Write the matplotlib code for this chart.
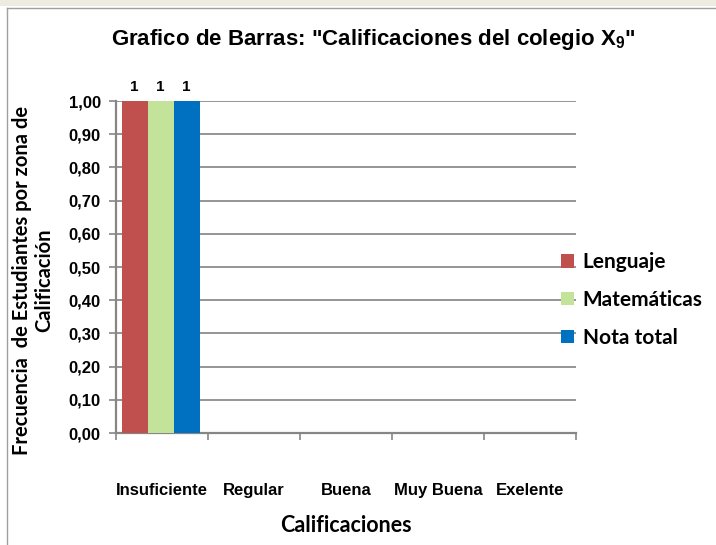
import matplotlib
matplotlib.use('Agg')
import matplotlib.pyplot as plt
from matplotlib.patches import Rectangle
from matplotlib.lines import Line2D
import numpy as np

# datos del grafico
categorias = ['Insuficiente', 'Regular', 'Buena', 'Muy Buena', 'Exelente']
lenguaje = [1, 0, 0, 0, 0]
matematicas = [1, 0, 0, 0, 0]
nota_total = [1, 0, 0, 0, 0]
series = ['Lenguaje', 'Matemáticas', 'Nota total']
colores = ['#C0504D', '#C3E29A', '#0070C0']
yticks = [0.0, 0.1, 0.2, 0.3, 0.4, 0.5, 0.6, 0.7, 0.8, 0.9, 1.0]

plt.rcParams['mathtext.fontset'] = 'custom'
plt.rcParams['mathtext.bf'] = 'Liberation Sans:bold'
plt.rcParams['mathtext.rm'] = 'Liberation Sans:bold'

fig = plt.figure(figsize=(7.16, 5.45), dpi=100)
W, H = 716, 545
ax = fig.add_axes([116/W, 1-433/H, (576-116)/W, (433-101)/H])

# marco de la hoja
fig.add_artist(Rectangle((0, 1-6/H), 1, 6/H, transform=fig.transFigure, color='#EEECE1', lw=0))
fig.add_artist(Line2D([7/W, 1], [1-8/H, 1-8/H], transform=fig.transFigure, color='#A0A0A0', lw=1))
fig.add_artist(Line2D([7/W, 7/W], [0, 1-8/H], transform=fig.transFigure, color='#A0A0A0', lw=1))

x = np.arange(len(categorias))
w = 0.283
datos = [lenguaje, matematicas, nota_total]
for i, (vals, c, nom) in enumerate(zip(datos, colores, series)):
    pos = x + (i-1)*w - 0.015
    ax.bar(pos, vals, w, color=c, label=nom, zorder=3)
    for p, v in zip(pos, vals):
        if v > 0:
            ax.text(p, v + 0.02, f'{v:g}', ha='center', va='bottom',
                    fontsize=11, fontweight='bold', family='Liberation Sans')

ax.set_xlim(-0.5, 4.5)
ax.set_ylim(0, 1)
ax.set_yticks(yticks)
ax.set_yticklabels([f'{t:.2f}'.replace('.', ',') for t in yticks],
                   fontsize=12, fontweight='bold', family='Liberation Sans')
ax.set_xticks(x)
ax.set_xticklabels(categorias, fontsize=12, fontweight='bold', family='Liberation Sans')
ax.set_xticks(np.arange(-0.5, 5, 1), minor=True)
ax.tick_params(axis='x', which='major', length=0, pad=36)
ax.tick_params(axis='x', which='minor', length=5, width=1.2, color='#868686', direction='out')
ax.tick_params(axis='y', length=5, width=1.2, color='#868686', direction='out', pad=6)

ax.grid(axis='y', color='#8C8C8C', lw=1.3, zorder=0)
for s in ['top', 'right']:
    ax.spines[s].set_visible(False)
for s in ['left', 'bottom']:
    ax.spines[s].set_color('#868686')
    ax.spines[s].set_linewidth(1.6)

fig.text(373/W, 1-40/H, 'Grafico de Barras: "Calificaciones del colegio $\\mathbf{X_9}$"',
         ha='center', va='center', fontsize=16, fontweight='bold', family='Liberation Sans')
fig.text(346/W, 1-525/H, 'Calificaciones', ha='center', va='center',
         fontsize=15.5, fontweight='bold', family='Lato')
fig.text(33/W, 1-280/H, 'Frecuencia  de Estudiantes por zona de\nCalificación',
         ha='center', va='center', rotation=90, fontsize=14.5, fontweight='bold',
         family='Lato', linespacing=1.15)

leg = fig.legend(loc='center left', bbox_to_anchor=(561/W, 1-300/H), frameon=False,
                 prop={'family': 'Lato', 'weight': 'bold', 'size': 15},
                 handlelength=0.6, handleheight=0.6, handletextpad=0.45,
                 labelspacing=0.85, borderaxespad=0, borderpad=0)

fig.savefig('out.png', dpi=100)
